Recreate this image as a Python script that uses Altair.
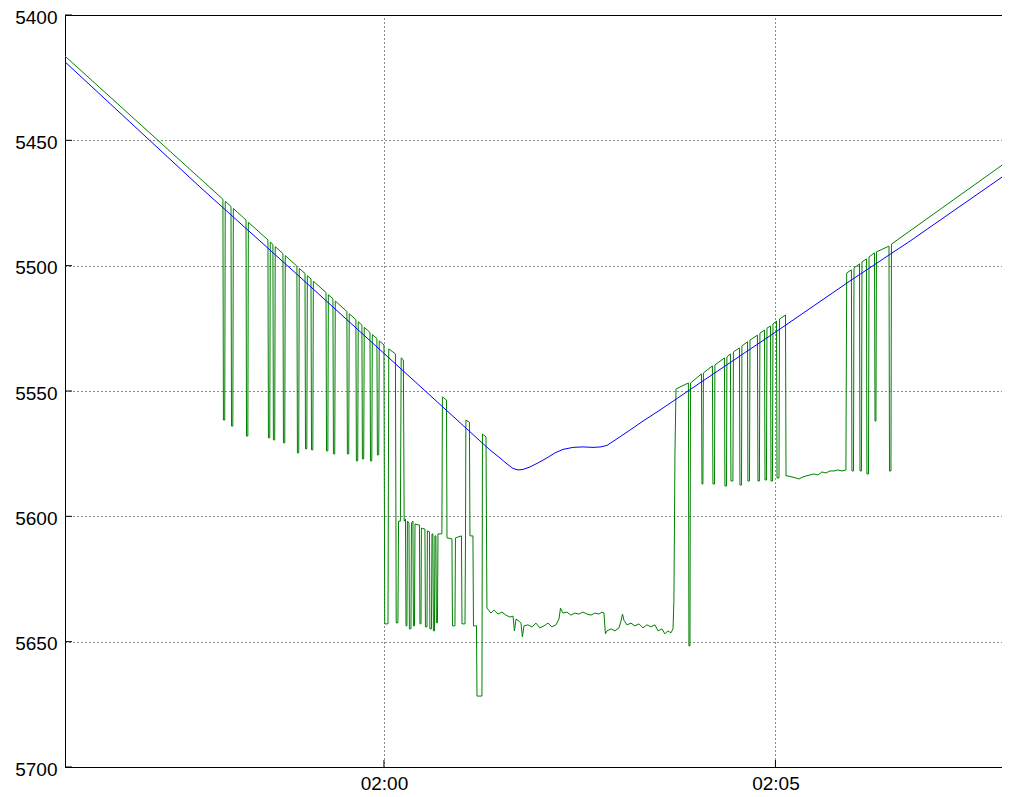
import altair as alt
import pandas as pd

# time axis: seconds relative to 02:00:00
x_domain = [-244.4, 473.6]
x_tick_values = [0, 300]
x_tick_labels = ["02:00", "02:05"]
y_domain = [5400, 5700]
y_tick_values = [5400, 5450, 5500, 5550, 5600, 5650, 5700]

# blue series
blue_t = [-244.4, -141.0, -64.4, 12.3, 73.6, 81.2, 88.9, 94.3, 98.9, 102.7, 106.5, 111.9,
          118.0, 124.9, 131.0, 137.2, 144.8, 152.5, 160.2, 166.3, 170.9, 176.2, 180.8, 188.5,
          198.5, 211.5, 242.1, 301.2, 357.1, 403.1, 478.2]
blue_v = [5418.7, 5468.6, 5504.5, 5540.8, 5569.9, 5573.5, 5576.7, 5579.1, 5580.9, 5581.5,
          5581.3, 5580.3, 5578.7, 5576.7, 5574.7, 5573.3, 5572.5, 5572.3, 5572.5, 5572.3,
          5571.7, 5569.9, 5568.3, 5565.6, 5562.0, 5557.6, 5546.8, 5526.1, 5506.1, 5490.2, 5463.0]

# green series, left part (descending with drop-outs)
green_left_t = [-244.4, -123.4, -123.0, -122.0, -121.6, -117.2, -116.8, -115.8, -115.4,
                -105.7, -105.3, -104.3, -103.9, -88.9, -88.5, -87.5, -87.1, -85.1, -84.7,
                -83.7, -83.3, -77.4, -77.0, -76.0, -75.6, -66.7, -66.3, -65.3, -64.9,
                -60.5, -60.1, -59.1, -58.7, -55.9, -55.5, -54.5, -54.1, -44.4, -44.0,
                -43.0, -42.6, -39.1, -38.7, -37.7, -37.3, -28.4, -28.0, -27.0, -26.6,
                -21.5, -21.1, -20.1, -19.7, -16.9, -16.5, -15.5, -15.1, -10.7, -10.3,
                -9.3, -8.9, -5.4, -5.0, -4.0, -3.6]
green_left_v = [5416.4, 5473.5, 5561.6, 5561.6, 5474.3, 5476.4, 5564.0, 5564.0, 5477.2,
                5481.8, 5568.0, 5568.0, 5482.7, 5489.7, 5568.7, 5568.7, 5490.6, 5491.5, 5569.5,
                5569.5, 5492.4, 5495.2, 5570.7, 5570.7, 5496.0, 5500.2, 5574.7, 5574.7, 5501.1,
                5503.1, 5573.1, 5573.1, 5504.0, 5505.3, 5573.5, 5573.5, 5506.2, 5510.7, 5573.9,
                5573.9, 5511.6, 5513.2, 5575.1, 5575.1, 5514.1, 5518.3, 5575.1, 5575.1, 5519.2,
                5521.5, 5577.9, 5577.9, 5522.4, 5523.7, 5577.1, 5577.1, 5524.6, 5526.6, 5577.9,
                5577.9, 5527.5, 5529.1, 5575.5, 5575.5, 5530.0]

# green series, middle part (switching between levels)
green_mid_t = [0.0, 0.6, 3.1, 3.7, 8.8, 9.4, 10.7, 11.2, 12.6, 13.2, 14.9, 15.5, 16.5, 16.9,
               17.6, 18.0, 19.2, 19.5, 20.7, 21.1, 22.2, 22.6, 23.4, 23.8, 27.2, 27.6, 28.4,
               28.7, 31.4, 31.8, 33.0, 33.3, 34.9, 35.2, 36.4, 36.8, 37.5, 37.9, 38.7, 39.1,
               39.8, 40.2, 41.0, 41.4, 44.4, 44.8, 47.9, 48.3, 52.1, 52.5, 54.4, 54.8, 59.4,
               59.8, 62.1, 62.5, 62.8, 65.5, 65.9, 68.2, 68.6, 70.9, 71.3, 75.1, 75.5, 78.2]
green_mid_v = [5531.6, 5642.9, 5642.9, 5533.2, 5535.2, 5642.5, 5642.5, 5601.9, 5601.9, 5536.8,
               5537.6, 5601.9, 5601.1, 5643.7, 5643.7, 5601.9, 5602.7, 5644.9, 5644.9, 5602.7,
               5601.9, 5643.7, 5643.7, 5603.1, 5603.5, 5642.9, 5642.9, 5604.7, 5605.1, 5644.1,
               5644.1, 5605.8, 5606.2, 5644.9, 5644.9, 5607.0, 5607.0, 5645.7, 5645.7, 5607.8,
               5607.8, 5642.5, 5642.5, 5607.0, 5607.0, 5552.4, 5553.6, 5608.6, 5609.0, 5643.7,
               5643.7, 5608.6, 5607.8, 5642.9, 5642.9, 5607.8, 5561.6, 5562.4, 5607.8, 5607.8,
               5643.7, 5643.7, 5671.7, 5671.7, 5567.2, 5568.3]

# green series, low plateau
green_plat_t = [78.9, 82.0, 84.3, 87.4, 90.4, 93.5, 96.6, 98.9, 100.0, 101.2, 103.5, 105.0,
                106.1, 107.3, 110.3, 113.4, 116.5, 119.5, 122.6, 125.7, 128.7, 131.8, 134.1,
                135.3, 137.2, 140.2, 143.3, 146.4, 149.4, 152.5, 155.6, 158.6, 161.7, 164.8,
                167.1, 168.6, 169.7, 170.9, 174.0, 177.0, 180.1, 181.6, 182.8, 183.9, 186.2,
                189.3, 192.3, 195.4, 198.5, 201.5, 204.6, 207.7, 210.0, 213.0, 215.3, 217.6,
                219.9, 221.5]
green_plat_v = [5636.6, 5638.6, 5637.4, 5639.0, 5638.2, 5639.4, 5640.2, 5639.8, 5645.7, 5641.0,
                5641.8, 5642.6, 5648.1, 5643.7, 5643.3, 5644.1, 5642.6, 5644.5, 5643.7, 5642.6,
                5644.1, 5643.3, 5641.0, 5636.6, 5638.6, 5638.2, 5639.4, 5638.6, 5639.0, 5638.2,
                5639.0, 5639.4, 5638.6, 5639.0, 5638.2, 5638.6, 5646.9, 5645.7, 5644.9, 5645.7,
                5644.5, 5641.8, 5639.0, 5641.4, 5643.3, 5642.6, 5643.7, 5642.9, 5644.5, 5643.3,
                5644.1, 5643.3, 5645.7, 5644.9, 5646.9, 5645.7, 5646.5, 5644.9]

# green series, right part (rising with drop-outs)
green_right_t = [222.2, 223.0, 223.8, 228.4, 233.3, 233.7, 234.5, 234.9, 243.3, 243.7, 244.4,
                 244.8, 251.7, 252.1, 253.3, 253.6, 260.9, 261.3, 262.5, 262.8, 265.5, 265.9,
                 267.4, 267.8, 272.4, 272.8, 274.0, 274.3, 278.6, 278.9, 280.1, 280.5, 286.2,
                 286.6, 287.7, 288.1, 291.6, 292.0, 293.1, 293.5, 296.2, 296.6, 297.7, 298.1,
                 300.8, 301.2, 302.7, 303.1, 307.7, 308.1, 309.6, 312.7, 315.7, 318.0, 321.1,
                 323.4, 326.4, 329.5, 332.6, 335.6, 338.7, 341.8, 344.8, 347.9, 351.0, 354.0,
                 354.6, 358.2, 358.6, 359.8, 360.2, 364.4, 364.8, 365.9, 366.3, 369.7, 370.1,
                 371.3, 371.7, 375.9, 376.3, 377.0, 377.4, 387.0, 387.4, 388.5, 388.9, 478.2]
green_right_v = [5633.8, 5574.7, 5549.2, 5548.0, 5546.8, 5651.7, 5651.7, 5546.8, 5543.2, 5587.1,
                 5587.1, 5542.8, 5540.0, 5587.1, 5587.1, 5539.6, 5536.8, 5587.9, 5587.9, 5536.4,
                 5535.2, 5585.9, 5585.9, 5534.4, 5532.8, 5587.5, 5587.5, 5532.0, 5530.4, 5585.9,
                 5585.9, 5529.7, 5527.7, 5585.9, 5585.9, 5526.9, 5525.7, 5585.5, 5585.5, 5524.9,
                 5524.1, 5585.9, 5585.9, 5523.3, 5522.1, 5584.7, 5584.7, 5521.3, 5519.7, 5583.9,
                 5583.9, 5584.3, 5584.7, 5585.1, 5584.3, 5583.9, 5583.5, 5583.1, 5583.5, 5582.3,
                 5582.7, 5581.9, 5581.9, 5581.5, 5581.9, 5581.5, 5502.9, 5501.7, 5581.9, 5581.9,
                 5500.9, 5499.3, 5581.9, 5581.9, 5498.5, 5497.3, 5583.1, 5583.1, 5496.5, 5494.9,
                 5562.0, 5562.0, 5494.5, 5492.2, 5581.9, 5581.9, 5491.4, 5458.2]

green_t = green_left_t + green_mid_t + green_plat_t + green_right_t
green_v = green_left_v + green_mid_v + green_plat_v + green_right_v

df_green = pd.DataFrame({"t": green_t, "v": green_v, "i": list(range(len(green_t)))})
df_blue = pd.DataFrame({"t": blue_t, "v": blue_v, "i": list(range(len(blue_t)))})
df_xticks = pd.DataFrame({"t": x_tick_values})
df_yticks = pd.DataFrame({"v": y_tick_values})

label_expr = " : ".join(
    f"datum.value == {v} ? '{s}'" for v, s in zip(x_tick_values, x_tick_labels)
) + " : ''"

FONT = "Liberation Sans"
PLOT_W = 937
PLOT_H = 752
x_scale = alt.Scale(domain=x_domain, nice=False, zero=False)
y_scale = alt.Scale(domain=y_domain, reverse=True, nice=False, zero=False)

x_axis = alt.Axis(values=x_tick_values, labelExpr=label_expr, title=None, grid=True,
                  gridDash=[1, 3], gridColor="#000000", gridOpacity=0.9, ticks=False, tickSize=0,
                  domain=False, labelFont=FONT, labelFontSize=19, labelColor="#000000",
                  labelPadding=7)
y_axis = alt.Axis(values=y_tick_values, format="d", title=None, grid=True,
                  gridDash=[1, 3], gridColor="#000000", gridOpacity=0.9, ticks=False, tickSize=0,
                  domain=False, labelFont=FONT, labelFontSize=19, labelColor="#000000",
                  labelPadding=8, labelOffset=2)

green = alt.Chart(df_green).mark_line(color="#008000", strokeWidth=1, clip=True).encode(
    x=alt.X("t:Q", scale=x_scale, axis=x_axis),
    y=alt.Y("v:Q", scale=y_scale, axis=y_axis),
    order="i:Q",
)
blue = alt.Chart(df_blue).mark_line(color="#0000FF", strokeWidth=1, clip=True).encode(
    x=alt.X("t:Q", scale=x_scale),
    y=alt.Y("v:Q", scale=y_scale),
    order="i:Q",
)
xticks = alt.Chart(df_xticks).mark_rule(color="#000000", strokeWidth=1).encode(
    x=alt.X("t:Q", scale=x_scale),
    y=alt.value(PLOT_H),
    y2=alt.value(PLOT_H - 7),
)
yticks = alt.Chart(df_yticks).mark_rule(color="#000000", strokeWidth=1).encode(
    y=alt.Y("v:Q", scale=y_scale),
    x=alt.value(0),
    x2=alt.value(7),
)

chart = alt.layer(green, blue, xticks, yticks).properties(
    width=PLOT_W,
    height=PLOT_H,
    autosize=alt.AutoSizeParams(type="none"),
    padding={"left": 57, "top": 7, "right": 0, "bottom": 26},
    background="#ffffff",
).configure_view(stroke="#000000", strokeWidth=1)

chart.save("out.html", embed_options={"renderer": "svg", "actions": False})
